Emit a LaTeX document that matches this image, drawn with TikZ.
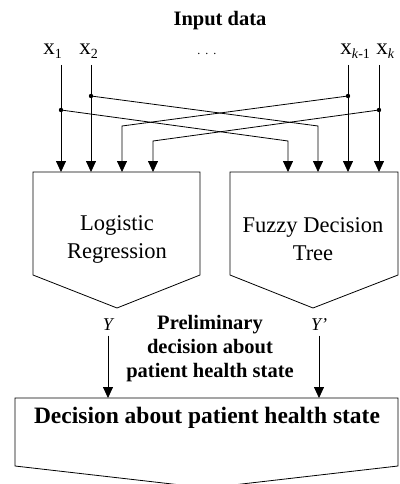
\documentclass[tikz,border=0pt]{standalone}
\usepackage{fontspec}
\setmainfont{Liberation Serif}
\usetikzlibrary{arrows.meta}
\newcommand{\lowidx}[1]{\raisebox{-4pt}{\fontsize{14}{14}\selectfont #1}}

\begin{document}
\begin{tikzpicture}[x=1pt,y=-1pt,line width=0.8pt,
  arr/.style={-{Triangle[width=10pt,length=11pt]}},
  txt/.style={align=center,font=\fontsize{22.5}{28}\selectfont},
  hd/.style={align=center,font=\fontsize{20.5}{24}\selectfont\bfseries},
  xl/.style={anchor=base west,inner sep=0pt,font=\fontsize{23}{26}\selectfont},
  yl/.style={font=\fontsize{18}{20}\selectfont\itshape}]

\clip (0,0) rectangle (399,484);

\node[hd] (in) at (220,21) {Input data};
\node[xl] (l1) at (43,55) {x\lowidx{1}};
\node[xl] (l2) at (79,55) {x\lowidx{2}};
\node[xl] (ld) at (197,55) {\fontsize{12}{12}\selectfont.\hspace{5pt}.\hspace{5pt}.};
\node[xl] (l3) at (340,55) {x\lowidx{\textit{k}-1}};
\node[xl] (l4) at (376,55) {x\lowidx{\textit{k}}};

\coordinate (a1) at (61,65);
\coordinate (a2) at (91,65);
\coordinate (a3) at (348,65);
\coordinate (a4) at (379,65);
\coordinate (j1) at (61,110);
\coordinate (j2) at (91,96);
\coordinate (j3) at (348,96);
\coordinate (j4) at (379,110);
\coordinate (c1) at (122,126);
\coordinate (c2) at (153,141);
\coordinate (c3) at (288,141);
\coordinate (c4) at (318,126);
\coordinate (e1) at (61,172);
\coordinate (e2) at (91,172);
\coordinate (e3) at (122,172);
\coordinate (e4) at (153,172);
\coordinate (e5) at (288,172);
\coordinate (e6) at (318,172);
\coordinate (e7) at (348,172);
\coordinate (e8) at (379,172);

\draw[arr] (a1) -- (e1);
\draw[arr] (a2) -- (e2);
\draw[arr] (a3) -- (e7);
\draw[arr] (a4) -- (e8);
\draw[arr] (j1) -- (c3) -- (e5);
\draw[arr] (j2) -- (c4) -- (e6);
\draw[arr] (j3) -- (c1) -- (e3);
\draw[arr] (j4) -- (c2) -- (e4);
\fill (j1) circle (2.2);
\fill (j2) circle (2.2);
\fill (j3) circle (2.2);
\fill (j4) circle (2.2);

\draw (33,172) -- (200,172) -- (200,275) -- (117,308) -- (33,275) -- cycle;
\draw (230,172) -- (398,172) -- (398,275) -- (313,308) -- (230,275) -- cycle;
\node[txt] (lr) at (117,239) {Logistic\\Regression};
\node[txt] (fdt) at (313,239) {Fuzzy Decision\\Tree};

\node[yl] (y1) at (108,325) {Y};
\node[yl] (y2) at (319,325) {Y'};
\node[hd] (pre) at (210,349) {Preliminary\\decision about\\patient health state};
\coordinate (f1) at (108,398);
\coordinate (f2) at (319,398);
\draw[arr,shorten <=1pt] (y1.south) -- (f1);
\draw[arr,shorten <=1pt] (y2.south) -- (f2);

\draw (15,398) -- (398,398) -- (398,466) -- (207,488) -- (15,466) -- cycle;
\node[font=\fontsize{23.5}{26}\selectfont\bfseries] (dec) at (207,418) {Decision about patient health state};
\end{tikzpicture}
\end{document}
